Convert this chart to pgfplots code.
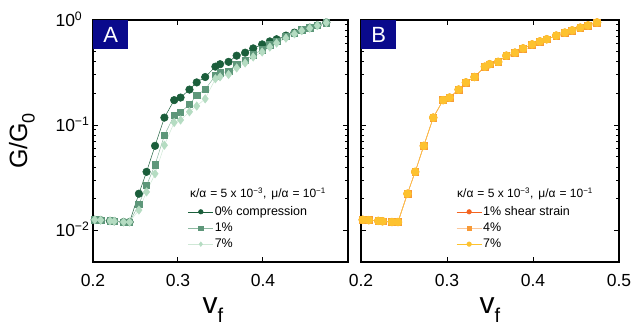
\documentclass[border=0pt]{standalone}
\usepackage{fontspec}
\setmainfont{Liberation Sans}
\usepackage{pgfplots}
\pgfplotsset{compat=1.18}
\usepackage{pgfplotstable}

\definecolor{dkg}{HTML}{1B5E3B}
\definecolor{mdg}{HTML}{5E977A}
\definecolor{ltg}{HTML}{B5DCC2}
\definecolor{ltgline}{HTML}{CFE8D6}
\definecolor{mdgline}{HTML}{8DB9A1}
\definecolor{or1}{HTML}{F46420}
\definecolor{or2}{HTML}{F89A36}
\definecolor{or3}{HTML}{FDC22F}
\definecolor{or2line}{HTML}{FBC79A}
\definecolor{navy}{HTML}{0A0A8C}

\pgfplotstableread{
vf G
0.202 0.0126
0.209 0.0125
0.220 0.0123
0.225 0.0122
0.236 0.0120
0.243 0.0120
0.254 0.0223
0.263 0.036
0.273 0.0636
0.284 0.118
0.2955 0.173
0.303 0.183
0.3135 0.218
0.322 0.255
0.332 0.287
0.344 0.36
0.3495 0.38
0.3595 0.40
0.369 0.458
0.379 0.489
0.3885 0.537
0.399 0.586
0.408 0.626
0.416 0.656
0.427 0.711
0.437 0.759
0.4455 0.797
0.455 0.846
0.464 0.889
0.4745 0.948
}\dataA

\pgfplotstableread{
vf G
0.202 0.0126
0.209 0.0125
0.220 0.0123
0.225 0.0122
0.236 0.0120
0.243 0.0120
0.254 0.0176
0.263 0.0267
0.273 0.042
0.284 0.080
0.2955 0.124
0.303 0.132
0.3135 0.158
0.322 0.192
0.332 0.219
0.344 0.296
0.3495 0.314
0.3595 0.325
0.369 0.382
0.379 0.413
0.3885 0.468
0.399 0.521
0.408 0.58
0.416 0.624
0.427 0.696
0.437 0.748
0.4455 0.805
0.455 0.845
0.464 0.889
0.4745 0.945
}\dataB

\pgfplotstableread{
vf G
0.202 0.0126
0.209 0.0125
0.220 0.0123
0.225 0.0122
0.236 0.0120
0.243 0.0120
0.254 0.0156
0.263 0.0232
0.273 0.0345
0.284 0.0645
0.2955 0.106
0.303 0.112
0.3135 0.134
0.322 0.152
0.332 0.178
0.344 0.276
0.3495 0.288
0.3595 0.303
0.369 0.35
0.379 0.39
0.3885 0.445
0.399 0.496
0.408 0.553
0.416 0.603
0.427 0.672
0.437 0.738
0.4455 0.792
0.455 0.835
0.464 0.885
0.4745 0.942
}\dataC

\newcommand{\partitle}{κ/α\hspace{4pt}= 5 x 10\textsuperscript{−3},\hspace{5pt}μ/α\hspace{4pt}= 10\textsuperscript{−1}}

\pgfplotsset{
  mypanel/.style={
    height=242pt, scale only axis,
    xmin=0.2, xmax=0.5, ymin=0.005, ymax=1,
    xtick={0.2,0.3,0.4,0.5},
    ytick={0.01,0.1,1},
    tick align=inside,
    axis line style={line width=1.5pt},
    every tick/.style={black, line width=1pt},
    major tick length=5pt, minor tick length=3pt,
    ticklabel style={font=\fontsize{17.5}{17.5}\selectfont},
    xticklabel style={anchor=base, yshift=-24pt},
    yticklabel style={anchor=base west, xshift=-41pt, yshift=-6.5pt},
    legend cell align=left,
    legend style={draw=none, fill=none, font=\fontsize{12.5}{13}\selectfont,
      anchor=north west, row sep=3.5pt, inner sep=0pt,
      nodes={inner sep=1.2pt},
      /tikz/every even column/.append style={column sep=0pt}},
    legend image post style={mark size=2.3pt},
  },
}

\begin{document}
\begin{tikzpicture}
\begin{axis}[ymode=log, mypanel, width=255pt, at={(0pt,0pt)},
  xticklabels={0.2,0.3,0.4,{}},
  yticklabels={10\textsuperscript{−2},10\textsuperscript{−1},10\textsuperscript{0}},
  legend style={at={(rel axis cs:0.372,0.235)}},
  legend image code/.code={\draw[mark repeat=2,mark phase=2] plot coordinates {(0pt,0pt) (12.5pt,0pt) (25pt,0pt)};},
]
\addplot[dkg, line width=0.5pt, mark=*, mark size=3.8pt, mark options={fill=dkg, draw=dkg}] table[x=vf,y=G]{\dataA};
\addlegendentry{0\% compression}
\addplot[mdgline, line width=0.5pt, mark=square*, mark size=3.2pt, mark options={fill=mdg, draw=mdg}] table[x=vf,y=G]{\dataB};
\addlegendentry{1\%}
\addplot[ltgline, line width=0.5pt, mark=diamond*, mark size=4.2pt, mark options={fill=ltg, draw=ltg}] table[x=vf,y=G]{\dataC};
\addlegendentry{7\%}
\node[anchor=base west, font=\fontsize{12}{12}\selectfont, inner sep=0pt] at (rel axis cs:0.38,0.2665) {\partitle};
\node[fill=navy, text=white, anchor=north west, minimum width=35pt, minimum height=29pt, inner sep=0pt, font=\fontsize{22}{22}\selectfont] at (rel axis cs:0,1) {A};
\end{axis}

\begin{axis}[ymode=log, mypanel, width=258pt, at={(268pt,0pt)},
  xticklabels={0.2,0.3,0.4,0.5},
  yticklabels={},
  legend style={at={(rel axis cs:0.369,0.235)}},
  legend image code/.code={\draw[mark repeat=2,mark phase=2] plot coordinates {(0pt,0pt) (12.5pt,0pt) (25pt,0pt)};},
]
\addplot[or1, line width=0.5pt, mark=*, mark size=3.8pt, mark options={fill=or1, draw=or1}] table[x=vf,y=G]{\dataA};
\addlegendentry{1\% shear strain}
\addplot[or2line, line width=0.5pt, mark=square*, mark size=3.4pt, mark options={fill=or2, draw=or2}] table[x=vf,y=G]{\dataA};
\addlegendentry{4\%}
\addplot[or3, line width=0.5pt, mark=*, mark size=4pt, mark options={fill=or3, draw=or3}] table[x=vf,y=G]{\dataA};
\addlegendentry{7\%}
\node[anchor=base west, font=\fontsize{12}{12}\selectfont, inner sep=0pt] at (rel axis cs:0.372,0.2665) {\partitle};
\node[fill=navy, text=white, anchor=north west, minimum width=35pt, minimum height=29pt, inner sep=0pt, font=\fontsize{22}{22}\selectfont] at (rel axis cs:0,1) {B};
\end{axis}
\node[rotate=90, font=\fontsize{25}{25}\selectfont, inner sep=0pt] at (-71pt,121pt) {G/G\raisebox{-0.3em}{\fontsize{18}{18}\selectfont 0}};
\node[anchor=base, font=\fontsize{30}{30}\selectfont, inner sep=0pt] at (120pt,-52pt) {v\raisebox{-0.27em}{\fontsize{20}{20}\selectfont f}};
\node[anchor=base, font=\fontsize{30}{30}\selectfont, inner sep=0pt] at (397pt,-52pt) {v\raisebox{-0.27em}{\fontsize{20}{20}\selectfont f}};
\pgfresetboundingbox
\path (-93pt,-64pt) rectangle (539pt,262pt);
\end{tikzpicture}
\end{document}
